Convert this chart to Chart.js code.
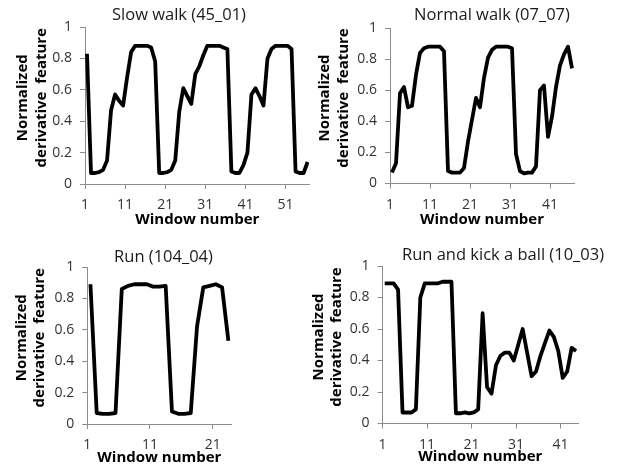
<!DOCTYPE html>
<html>
<head>
<meta charset="utf-8">
<script src="https://cdn.jsdelivr.net/npm/chart.js@4.4.0/dist/chart.umd.min.js"></script>
<style>
  html, body { margin: 0; padding: 0; background: #fff; overflow: hidden; }
  body { width: 619px; height: 468px; position: relative; }
  canvas { position: absolute; }
</style>
</head>
<body>
<canvas id="slowChart"></canvas>
<canvas id="normalChart"></canvas>
<canvas id="runChart"></canvas>
<canvas id="kickChart"></canvas>
<script>
// normalized derivative feature per window
const slowWalk = [
  0.83, 0.07, 0.07, 0.075, 0.09, 0.15, 0.47, 0.57, 0.53, 0.50,
  0.68, 0.84, 0.88, 0.88, 0.88, 0.88, 0.87, 0.78, 0.07, 0.07,
  0.075, 0.09, 0.15, 0.46, 0.61, 0.56, 0.51, 0.70, 0.75, 0.82,
  0.88, 0.88, 0.88, 0.88, 0.87, 0.86, 0.08, 0.07, 0.07, 0.12,
  0.20, 0.57, 0.61, 0.56, 0.50, 0.80, 0.86, 0.88, 0.88, 0.88,
  0.88, 0.86, 0.08, 0.07, 0.07, 0.14
];
const normalWalk = [
  0.07, 0.13, 0.58, 0.62, 0.49, 0.50, 0.70, 0.84, 0.87, 0.88,
  0.88, 0.88, 0.88, 0.85, 0.08, 0.07, 0.07, 0.07, 0.10, 0.27,
  0.41, 0.55, 0.49, 0.68, 0.81, 0.86, 0.88, 0.88, 0.88, 0.88,
  0.87, 0.19, 0.08, 0.065, 0.07, 0.07, 0.11, 0.60, 0.63, 0.30,
  0.43, 0.62, 0.76, 0.83, 0.88, 0.74
];
const run = [
  0.89, 0.07, 0.065, 0.065, 0.07, 0.86, 0.88, 0.89, 0.89, 0.89,
  0.875, 0.875, 0.88, 0.08, 0.065, 0.065, 0.07, 0.62, 0.87, 0.88,
  0.89, 0.87, 0.53
];
const runKick = [
  0.89, 0.89, 0.89, 0.85, 0.07, 0.07, 0.07, 0.09, 0.80, 0.89,
  0.89, 0.89, 0.89, 0.90, 0.90, 0.90, 0.065, 0.065, 0.07, 0.065,
  0.07, 0.09, 0.70, 0.23, 0.19, 0.37, 0.43, 0.45, 0.45, 0.40,
  0.50, 0.60, 0.45, 0.30, 0.33, 0.43, 0.51, 0.59, 0.55, 0.46,
  0.29, 0.33, 0.48, 0.46
];

const slowTicks = [1, 11, 21, 31, 41, 51];
const normalTicks = [1, 11, 21, 31, 41];
const runTicks = [1, 11, 21];
const kickTicks = [1, 11, 21, 31, 41];
const yTicks = [0, 0.2, 0.4, 0.6, 0.8, 1];

// leading spaces lift the rotated title a little above the plot's middle
const yTitle = ["    Normalized", "    derivative  feature"];
const xTitle = "Window number";

Chart.defaults.font.family = "'Open Sans', sans-serif";

const axisGrey = "#8c8c8c";

// box: canvas placement, left axis width, bottom axis height,
// and an empty right-hand gutter so the title can sit off-centre of the plot
function makePanel(id, title, values, xTicks, box) {
  const el = document.getElementById(id);
  el.width = box.w;
  el.height = box.h;
  el.style.left = box.x + "px";
  el.style.top = box.y + "px";

  const points = values.map((v, i) => ({ x: i + 1, y: v }));

  return new Chart(el, {
    type: "line",
    data: {
      datasets: [{
        data: points,
        borderColor: "#000",
        borderWidth: 3.8,
        borderJoinStyle: "round",
        pointRadius: 0,
        tension: 0,
        fill: false
      }]
    },
    options: {
      responsive: false,
      animation: false,
      devicePixelRatio: 1,
      layout: { padding: { left: 0, right: 0, top: 0, bottom: box.padBottom } },
      plugins: {
        legend: { display: false },
        tooltip: { enabled: false },
        title: {
          display: true,
          text: title,
          color: "#1a1a1a",
          font: { size: 16.5, weight: "normal", lineHeight: 1.2 },
          padding: box.titlePad
        }
      },
      scales: {
        x: {
          type: "linear",
          min: 0.5,
          max: values.length + 0.5,
          afterBuildTicks: axis => {
            // tick marks sit on the left edge of each labelled window
            axis.ticks = xTicks.map(t => ({ value: t - 0.5 }));
          },
          afterFit: scale => { scale.height = box.xh; },
          ticks: {
            color: "#333",
            padding: 8,
            font: { size: 14, lineHeight: 1.2 },
            maxRotation: 0,
            callback: v => String(v + 0.5)
          },
          grid: {
            drawOnChartArea: false,
            drawTicks: true,
            tickLength: 5,
            color: axisGrey
          },
          border: { display: true, color: axisGrey, width: 1 },
          title: {
            display: true,
            text: xTitle,
            color: "#000",
            font: { size: 15, weight: "bold", lineHeight: 1.2 },
            padding: { top: 0, bottom: box.xTitlePad }
          }
        },
        y: {
          min: 0,
          max: 1,
          afterBuildTicks: axis => {
            axis.ticks = yTicks.map(v => ({ value: v }));
          },
          afterFit: scale => { scale.width = box.yw; },
          ticks: {
            color: "#333",
            padding: 8,
            font: { size: 14, lineHeight: 1.2 },
            callback: v => String(v)
          },
          grid: {
            drawOnChartArea: false,
            drawTicks: true,
            tickLength: 5,
            color: axisGrey
          },
          border: { display: true, color: axisGrey, width: 1 },
          title: {
            display: true,
            text: yTitle,
            color: "#000",
            font: { size: 15, weight: "bold", lineHeight: 1.25 },
            padding: { top: box.yTitlePad, bottom: 0 }
          }
        },
        gutter: {
          position: "right",
          display: true,
          afterFit: scale => { scale.width = box.gutter; },
          ticks: { display: false },
          grid: { display: false },
          border: { display: false }
        }
      }
    }
  });
}

makePanel("slowChart", "Slow walk (45_01)", slowWalk, slowTicks, {
  x: 0, y: 0, w: 358, h: 240, padBottom: 11,
  yw: 85, xh: 45, gutter: 48.4,
  titlePad: { top: 5, bottom: 2.2 },
  yTitlePad: 13.5, xTitlePad: 0
});

makePanel("normalChart", "Normal walk (07_07)", normalWalk, normalTicks, {
  x: 312, y: 0, w: 360, h: 240, padBottom: 11.5,
  yw: 78, xh: 45, gutter: 98,
  titlePad: { top: 5, bottom: 3.2 },
  yTitlePad: 3.6, xTitlePad: 0
});

makePanel("runChart", "Run (104_04)", run, runTicks, {
  x: 0, y: 235, w: 327, h: 233, padBottom: 0,
  yw: 87.3, xh: 44, gutter: 95.5,
  titlePad: { top: 12.2, bottom: 0 },
  yTitlePad: 12.1, xTitlePad: 1.5
});

makePanel("kickChart", "Run and kick a ball (10_03)", runKick, kickTicks, {
  x: 305, y: 235, w: 396, h: 233, padBottom: 0,
  yw: 77.5, xh: 44.5, gutter: 122.7,
  titlePad: { top: 10.6, bottom: 0.6 },
  yTitlePad: 3.9, xTitlePad: 2.5
});
</script>
</body>
</html>
